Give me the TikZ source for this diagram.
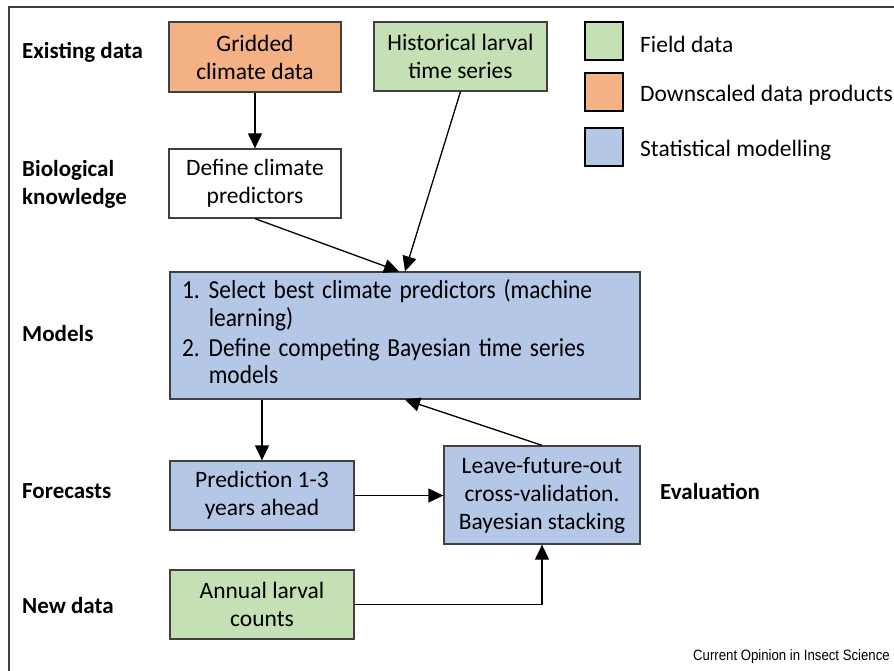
\documentclass[tikz,border=0pt]{standalone}
\usepackage{fontspec}
\setmainfont{Carlito}
\newfontfamily\narrowfont[FakeStretch=0.9]{Carlito}
\newfontfamily\creditfont[FakeStretch=0.88]{Liberation Sans}
\usetikzlibrary{arrows.meta,positioning,calc}
\definecolor{fieldgreen}{HTML}{C5E0B4}
\definecolor{downorange}{HTML}{F4B183}
\definecolor{statblue}{HTML}{B4C7E7}
\definecolor{edgegray}{HTML}{404040}
\tikzset{
  stagebox/.style={draw=edgegray, line width=1.3pt, inner sep=0pt, align=center,
    font=\fontsize{23.5}{28}\selectfont},
  stagelabel/.style={anchor=west, inner sep=0pt, align=left,
    font=\fontsize{23}{28}\selectfont\bfseries},
  keybox/.style={draw=black, line width=1.3pt, minimum width=38pt, minimum height=38pt, inner sep=0pt},
  keytext/.style={anchor=west, inner sep=0pt, font=\fontsize{23.5}{28}\selectfont},
  flow/.style={line width=1.3pt, -{Triangle[length=15pt,width=14pt]}},
}
\begin{document}
\begin{tikzpicture}[x=1pt, y=-1pt]
\useasboundingbox (0,0) rectangle (894,671);
% open frame: left and top edges only
\draw[edgegray, line width=1.6pt] (9,671) -- (9,7) -- (894,7);

% boxes
\node[stagebox, fill=downorange, minimum width=172pt, minimum height=70pt] (grid) at (255,57) {Gridded\\climate data};
\node[stagebox, fill=fieldgreen, minimum width=173pt, minimum height=69pt] (hist) at (460.5,56.5) {Historical larval\\time series};
\node[stagebox, fill=white, minimum width=172pt, minimum height=69pt] (define) at (255,183.5) {Define climate\\predictors};
\node[stagebox, fill=statblue, text width=446pt, inner xsep=12pt, minimum height=127pt, align=left] (models) at (405,335.5)
  {\narrowfont\fontsize{26}{27}\selectfont
   \begin{tabular}{@{}l@{\hspace{9pt}}l@{}}
   1. & Select best climate predictors (machine\\
      & learning)\\[3pt]
   2. & Define competing Bayesian time series\\
      & models
   \end{tabular}};
\node[stagebox, fill=statblue, minimum width=184pt, minimum height=69pt] (pred) at (262,495.5) {Prediction 1-3\\years ahead};
\node[stagebox, fill=statblue, minimum width=196pt, minimum height=98pt] (eval) at (542,495) {Leave-future-out\\cross-validation.\\Bayesian stacking};
\node[stagebox, fill=fieldgreen, minimum width=184pt, minimum height=69pt] (annual) at (262,604.5) {Annual larval\\counts};

% row labels
\node[stagelabel] (lexist) at (22,52) {Existing data};
\node[stagelabel] (lbio) at (22,184) {Biological\\knowledge};
\node[stagelabel] (lmodels) at (22,334) {Models};
\node[stagelabel] (lfore) at (22,491) {Forecasts};
\node[stagelabel] (lnew) at (22,606) {New data};
\node[stagelabel] (leval) at (660,491) {Evaluation};

% legend
\node[keybox, fill=fieldgreen] (kfield) at (604,41) {};
\node[keybox, fill=downorange] (kdown) at (604,92) {};
\node[keybox, fill=statblue] (kstat) at (604,147) {};
\node[keytext] (tfield) at (640,44) {Field data};
\node[keytext] (tdown) at (640,95) {Downscaled data products};
\node[keytext] (tstat) at (640,150) {Statistical modelling};

% connectors
\coordinate (mtopL) at ($(models.north)+(-6,0)$);
\draw[flow] (grid.south) -- (define.north);
\draw[flow] (define.south) -- (mtopL);
\draw[flow] (hist.south) -- (models.north);
\draw[flow] (eval.north) -- (models.south);
\draw[flow] (pred.north |- models.south) -- (pred.north);
\draw[flow] (pred.east) -- (pred.east -| eval.west);
\draw[flow] (annual.east) -| (eval.south);

% credit line
\node[anchor=east, inner sep=0pt, font=\creditfont\fontsize{15}{17}\selectfont] (credit) at (890,657) {Current Opinion in Insect Science};
\end{tikzpicture}
\end{document}
